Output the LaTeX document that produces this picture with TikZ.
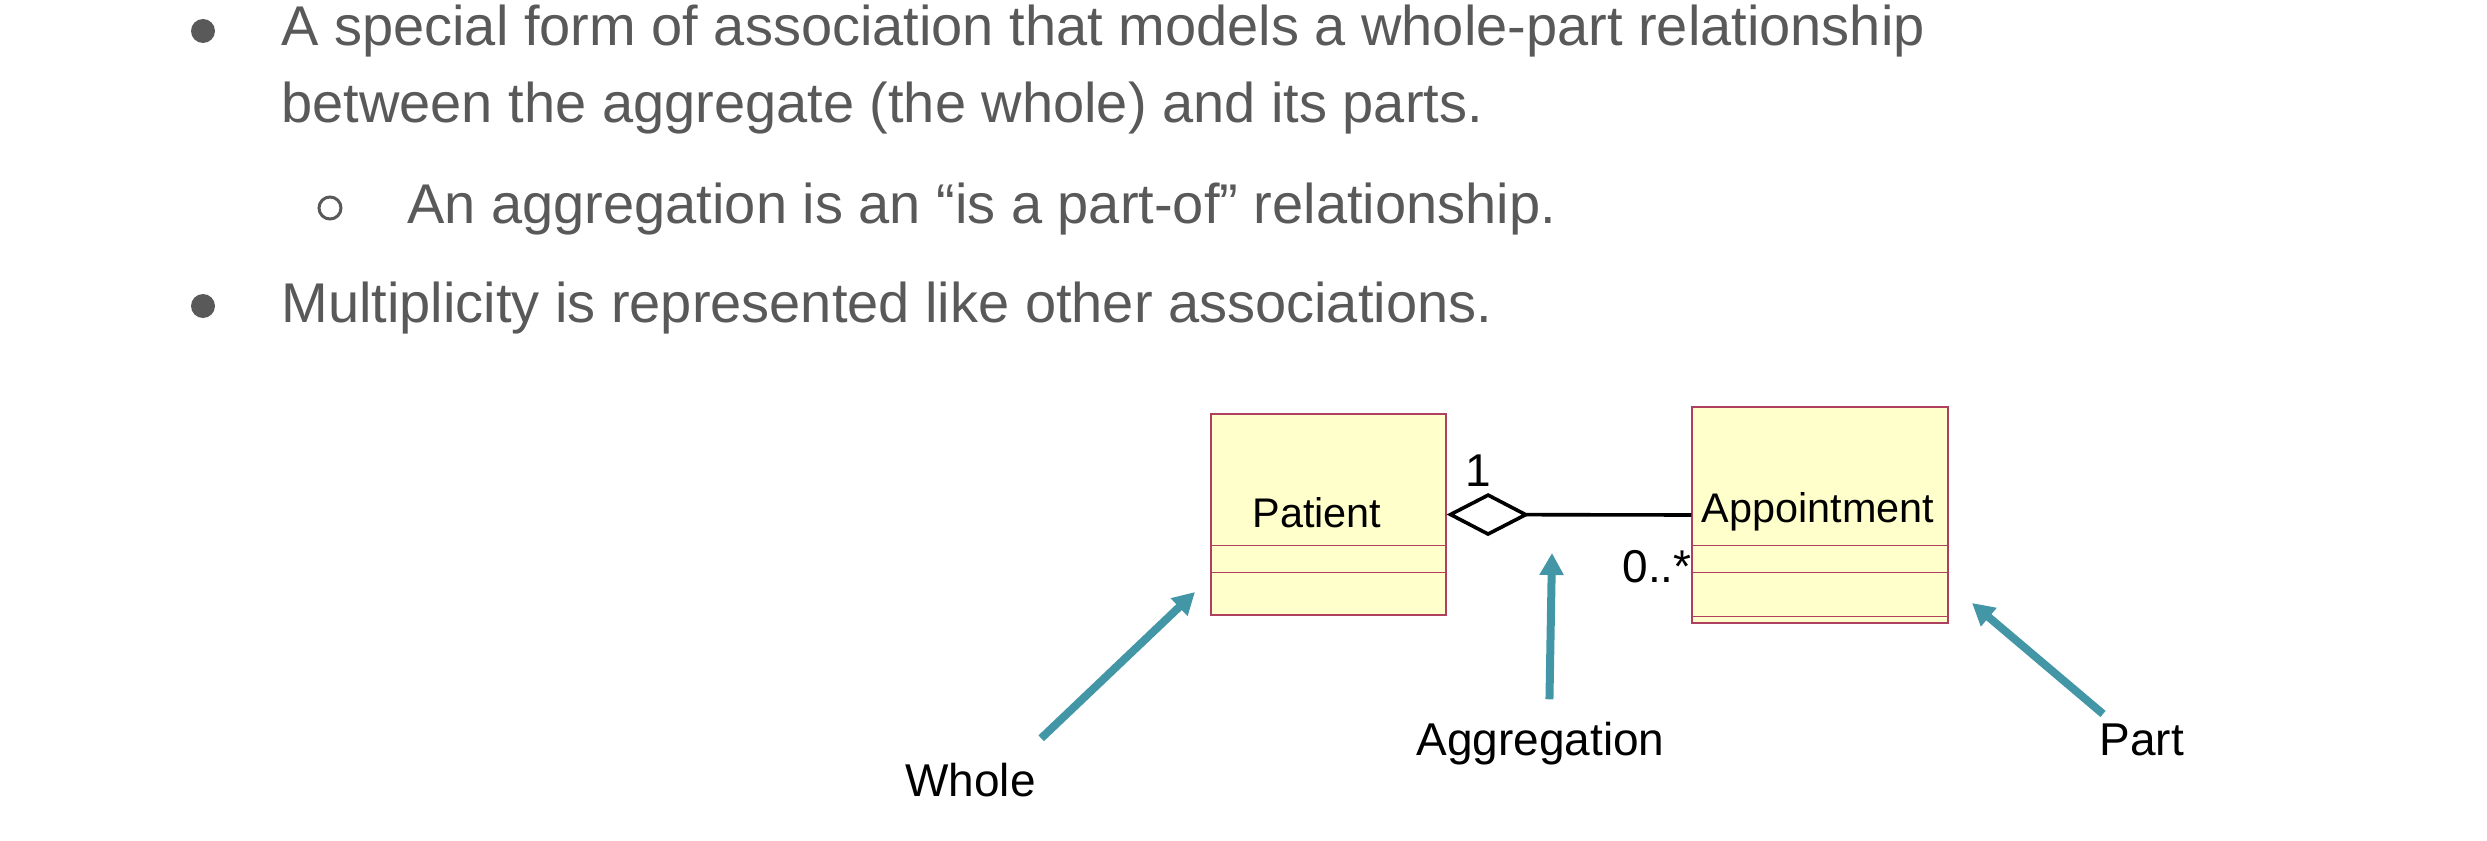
\documentclass[tikz,border=0pt]{standalone}
\usepackage{fontspec}
\setmainfont{Liberation Sans}
\usetikzlibrary{arrows.meta}
\definecolor{bodygray}{RGB}{89,89,89}
\definecolor{pointteal}{RGB}{66,150,165}
\definecolor{classfill}{RGB}{255,255,204}
\definecolor{classedge}{RGB}{176,64,96}
\tikzset{
    bodytext/.style={anchor=base west,inner sep=0pt,text=bodygray,font=\fontsize{28}{33}\selectfont},
    dot/.style={circle,fill=bodygray,inner sep=0pt,minimum size=12pt},
    ring/.style={circle,draw=bodygray,line width=1.5pt,inner sep=0pt,minimum size=11pt},
    classbox/.style={draw=classedge,fill=classfill,line width=0.6pt,inner sep=0pt},
    classname/.style={anchor=base,inner sep=0pt,font=\fontsize{20.7}{24}\selectfont},
    multi/.style={anchor=base west,inner sep=0pt,font=\fontsize{23}{27}\selectfont},
    tagtext/.style={anchor=base west,inner sep=0pt,font=\fontsize{23}{27}\selectfont},
    pointer/.style={draw=pointteal,line width=4pt,-{Triangle[length=11pt,width=11.5pt]}}
}
\begin{document}
\begin{tikzpicture}[x=0.5pt,y=-0.5pt]
    \useasboundingbox (0,0) rectangle (2487,840);

    % bullet list
    \node[dot] (dot1) at (203,31) {};
    \node[bodytext] (line1) at (281,46) {A special form of association that models a whole-part relationship};
    \node[bodytext] (line2) at (281,122) {between the aggregate (the whole) and its parts.};
    \node[ring] (ring1) at (330,208) {};
    \node[bodytext] (line3) at (407,223) {An aggregation is an “is a part-of” relationship.};
    \node[dot] (dot2) at (203,306) {};
    \node[bodytext] (line4) at (281,322) {Multiplicity is represented like other associations.};

    % classes
    \node[classbox,minimum width=117.5pt,minimum height=100.5pt] (patient) at (1328.5,514.5) {};
    \node[classbox,minimum width=128pt,minimum height=108pt] (appointment) at (1820,515) {};
    \node[classname] (patientname) at (1317,527) {Patient};
    \node[classname] (appointmentname) at (1818,522) {Appointment};
    \foreach \d in {66,79.5} {
    \draw[classedge,line width=0.6pt] ([yshift=-\d pt]patient.north west) -- ([yshift=-\d pt]patient.north east);
    }
    \foreach \d in {69.5,83,105} {
    \draw[classedge,line width=0.6pt] ([yshift=-\d pt]appointment.north west) -- ([yshift=-\d pt]appointment.north east);
    }

    % aggregation
    \draw[line width=1.8pt,-{Diamond[fill=white,length=41.5pt,width=21.5pt]}] (appointment.west) -- (patient.east);
    \node[multi] (one) at (1465,486) {1};
    \node[multi] (many) at (1622,582) {0..*};

    % callouts
    \node[tagtext] (whole) at (905,796) {Whole};
    \node[tagtext] (aggregation) at (1416,755) {Aggregation};
    \node[tagtext] (part) at (2099,755) {Part};
    \coordinate (wholetip) at (1195,592);
    \coordinate (aggtip) at (1552,553);
    \coordinate (parttip) at (1972,603);
    \draw[pointer] ([shift={(2.5pt,12pt)}]whole.north east) -- (wholetip);
    \draw[pointer] ([shift={(4.5pt,11pt)}]aggregation.north) -- (aggtip);
    \draw[pointer] ([shift={(2pt,4.5pt)}]part.north west) -- (parttip);

\end{tikzpicture}
\end{document}
